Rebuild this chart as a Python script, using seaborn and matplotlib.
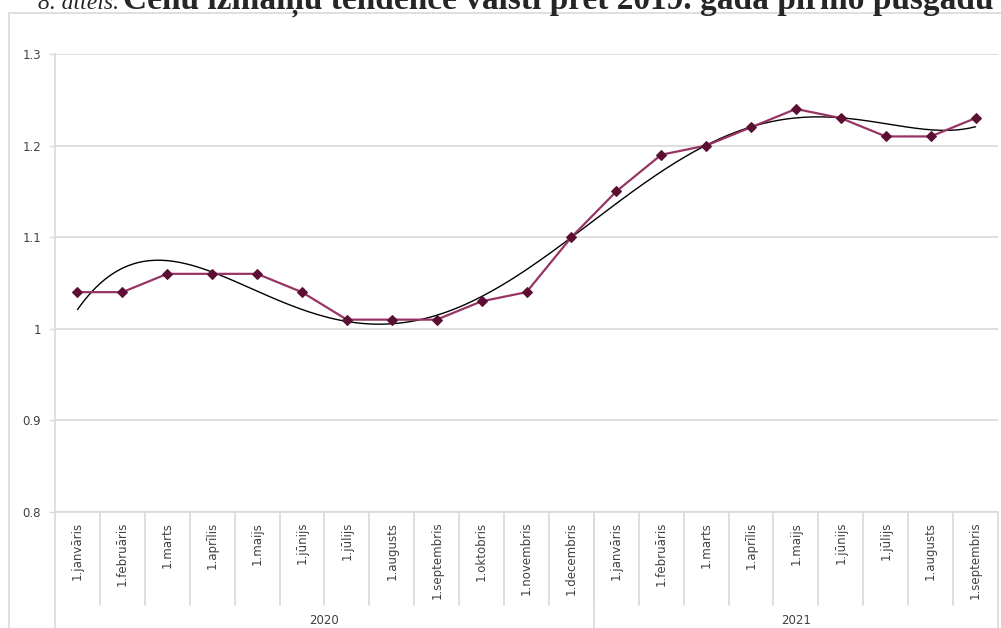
import numpy as np
import pandas as pd
import seaborn as sns
import matplotlib.pyplot as plt
from matplotlib.patches import Rectangle
from matplotlib.transforms import blended_transform_factory

# dati
menesi = ["1.janvāris", "1.februāris", "1.marts", "1.aprīlis", "1.maijs", "1.jūnijs",
          "1.jūlijs", "1.augusts", "1.septembris", "1.oktobris", "1.novembris", "1.decembris",
          "1.janvāris", "1.februāris", "1.marts", "1.aprīlis", "1.maijs", "1.jūnijs",
          "1.jūlijs", "1.augusts", "1.septembris"]
gadi = ["2020", "2021"]
menesi_gada = [12, 9]
cenas = [1.04, 1.04, 1.06, 1.06, 1.06, 1.04, 1.01, 1.01, 1.01, 1.03, 1.04, 1.10,
         1.15, 1.19, 1.20, 1.22, 1.24, 1.23, 1.21, 1.21, 1.23]
# tendences līnija, nolasīta no attēla
tendence = [1.021, 1.066, 1.075, 1.061, 1.040, 1.022, 1.010, 1.007, 1.013, 1.033, 1.063,
            1.100, 1.140, 1.173, 1.200, 1.219, 1.229, 1.230, 1.225, 1.218, 1.220]

df = pd.DataFrame({"poz": np.arange(len(cenas)), "cena": cenas})

# gluda polinoma līkne caur nolasītajām tendences vērtībām
koef = np.polyfit(df["poz"], tendence, 6)
xx = np.linspace(0, len(cenas) - 1, 300)
trend = pd.DataFrame({"poz": xx, "cena": np.polyval(koef, xx)})

sns.set_style("white")

fig = plt.figure(figsize=(10.01, 6.28), dpi=100)
W, H = 1001, 628
ax = fig.add_axes([55 / W, (H - 512) / H, (998 - 55) / W, (512 - 54) / H])

# ārējais rāmis
fig.patches.append(Rectangle((9 / W, -0.1), 1.2, 1.1 - 13 / H, transform=fig.transFigure,
                             fill=False, edgecolor="#d9d9d9", linewidth=1.2))

sns.lineplot(data=trend, x="poz", y="cena", color="black", linewidth=1.0, ax=ax)
sns.lineplot(data=df, x="poz", y="cena", color="#973463", linewidth=1.6,
             marker="D", markersize=5, markerfacecolor="#5a0f33",
             markeredgecolor="#5a0f33", ax=ax)

ax.set_xlim(-0.5, len(cenas) - 0.5)
ax.set_ylim(0.8, 1.3)
ax.set_yticks([0.8, 0.9, 1.0, 1.1, 1.2, 1.3])
ax.set_yticklabels(["0.8", "0.9", "1", "1.1", "1.2", "1.3"])
ax.set_xticks(df["poz"])
ax.set_xticklabels(menesi, rotation=90, va="top")
ax.tick_params(axis="x", length=0, pad=7, labelsize=8.5, labelcolor="#404040")
ax.tick_params(axis="y", length=4, width=1, color="#d9d9d9", pad=6, labelsize=8.5,
               labelcolor="#404040", left=True)
ax.grid(axis="y", color="#d9d9d9", linewidth=1.2)
ax.set_xlabel("")
ax.set_ylabel("")
for s in ["top", "right"]:
    ax.spines[s].set_visible(False)
for s in ["left", "bottom"]:
    ax.spines[s].set_color("#d9d9d9")
    ax.spines[s].set_linewidth(1.2)

# kategoriju atdalītāji
tr = blended_transform_factory(ax.transData, ax.transAxes)
ah = 512 - 54
for i in range(1, len(cenas)):
    ax.plot([i - 0.5, i - 0.5], [0, -(605 - 512) / ah], color="#d9d9d9", lw=1.2,
            transform=tr, clip_on=False)
sak = -0.5
for g, n in zip(gadi, menesi_gada):
    ax.plot([sak, sak], [0, -0.3], color="#d9d9d9", lw=1.2, transform=tr, clip_on=False)
    ax.text(sak + n / 2, -(621 - 512) / ah, g, transform=tr, ha="center", va="center",
            fontsize=8.5, color="#404040")
    sak += n
ax.plot([sak, sak], [0, -0.3], color="#d9d9d9", lw=1.2, transform=tr, clip_on=False)

# virsraksts (augšā nogriezts)
t1 = fig.text(38 / W, 1 - 9 / H, "8. attēls.", fontsize=17, style="italic",
              family="Liberation Serif", va="baseline")
fig.canvas.draw()
bb = t1.get_window_extent()
fig.text(123 / W, 1 - 9 / H,
         "Cenu izmaiņu tendence valstī pret 2019. gada pirmo pusgadu",
         fontsize=24, weight="bold", family="Liberation Serif", va="baseline")

fig.savefig("out.png", dpi=100)
